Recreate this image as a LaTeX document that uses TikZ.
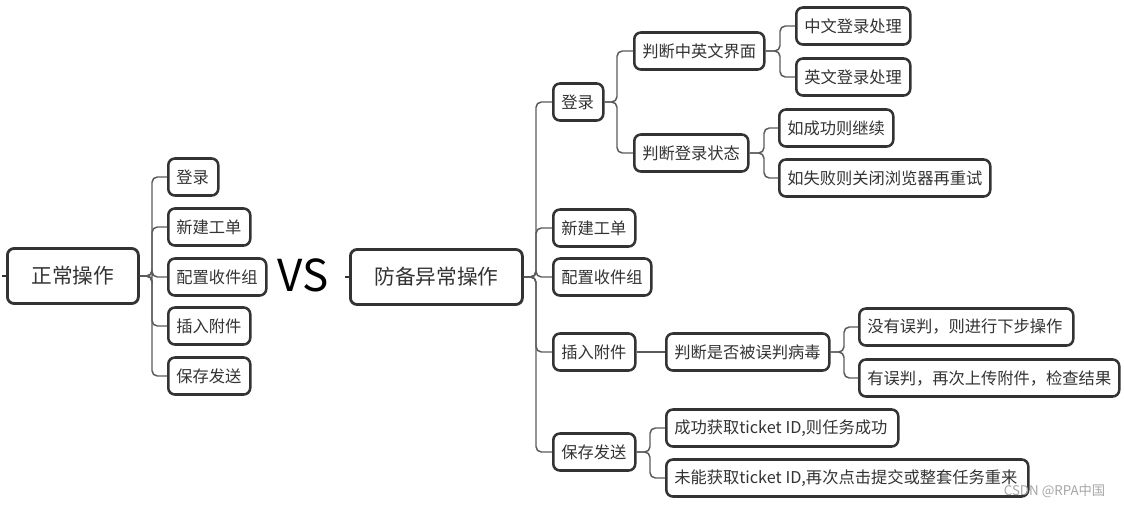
\documentclass[tikz,border=0pt]{standalone}
\usepackage{fontspec}
\setmainfont{Noto Sans CJK SC}
\definecolor{boxc}{HTML}{333333}
\definecolor{linec}{HTML}{5A5A5A}
\newcommand{\T}[2]{\makebox[\dimexpr 0.75pt*#1-12pt\relax][l]{#2}}
\begin{document}
\begin{tikzpicture}[x=0.75pt,y=-0.75pt,
  box/.style={draw=boxc, line width=1.9pt, rounded corners=5pt, fill=white,
    text=boxc, anchor=west, inner xsep=6pt, inner ysep=0pt,
    minimum height=37*0.75pt, font=\fontsize{12.2pt}{14pt}\selectfont},
  rootbox/.style={box, minimum height=55*0.75pt, line width=2.1pt, inner xsep=3pt,
    font=\fontsize{15.5pt}{18pt}\selectfont},
  w/.style={minimum width=#1*0.75pt},
  conn/.style={draw=linec, line width=1.1pt, rounded corners=4pt},
  stub/.style={draw=boxc, line width=1.6pt}
]
\useasboundingbox (0,0) rectangle (1124,507);

% left tree
\node[rootbox, w=131] (L) at (6,276) {正常操作};
\node[box] (L1) at (167,177) {\T{50}{登录}};
\node[box] (L2) at (167,227) {\T{82}{新建工单}};
\node[box] (L3) at (167,277) {\T{98}{配置收件组}};
\node[box] (L4) at (167,326) {\T{82}{插入附件}};
\node[box] (L5) at (167,376) {\T{82}{保存发送}};
\foreach \c in {L1,L2,L3,L4,L5}
  \draw[conn] (L.east) -| ([xshift=-15*0.75pt]\c.west) -- (\c.west);
\draw[stub] (L.west) -- ++(-4,0);

\node[font=\fontsize{33pt}{36pt}\selectfont, text=black] (vs) at (303,275) {VS};

% right tree
\node[rootbox, w=172] (R) at (349,277) {防备异常操作};
\draw[stub] (R.west) -- ++(-4,0);
\node[box] (R1) at (552,102) {\T{50}{登录}};
\node[box] (R2) at (552,228) {\T{82}{新建工单}};
\node[box] (R3) at (552,277) {\T{98}{配置收件组}};
\node[box] (R4) at (552,352) {\T{82}{插入附件}};
\node[box] (R5) at (552,452) {\T{82}{保存发送}};
\foreach \c in {R1,R2,R3,R4,R5}
  \draw[conn] (R.east) -| ([xshift=-16*0.75pt]\c.west) -- (\c.west);

\node[box] (A1) at (633,51) {\T{130}{判断中英文界面}};
\node[box] (A2) at (633,153) {\T{114}{判断登录状态}};
\foreach \c in {A1,A2}
  \draw[conn] (R1.east) -| ([xshift=-16*0.75pt]\c.west) -- (\c.west);

\node[box] (B1) at (795,26) {\T{114}{中文登录处理}};
\node[box] (B2) at (795,77) {\T{114}{英文登录处理}};
\foreach \c in {B1,B2}
  \draw[conn] (A1.east) -| ([xshift=-15*0.75pt]\c.west) -- (\c.west);

\node[box] (C1) at (778,128) {\T{114}{如成功则继续}};
\node[box] (C2) at (778,178) {\T{211}{如失败则关闭浏览器再重试}};
\foreach \c in {C1,C2}
  \draw[conn] (A2.east) -| ([xshift=-14*0.75pt]\c.west) -- (\c.west);

\node[box] (D) at (665,352) {\T{163}{判断是否被误判病毒}};
\draw[conn] (R4.east) -- (D.west);
\node[box] (D1) at (858,327) {\T{214}{没有误判，则进行下步操作}};
\node[box] (D2) at (858,378) {\T{260}{有误判，再次上传附件，检查结果}};
\foreach \c in {D1,D2}
  \draw[conn] (D.east) -| ([xshift=-14*0.75pt]\c.west) -- (\c.west);

\node[box] (E1) at (665,428) {\T{232}{成功获取ticket ID,则任务成功}};
\node[box] (E2) at (665,478) {\T{362}{未能获取ticket ID,再次点击提交或整套任务重来}};
\foreach \c in {E1,E2}
  \draw[conn] (R5.east) -| ([xshift=-15*0.75pt]\c.west) -- (\c.west);

\node[text=gray!70, font=\fontsize{10pt}{12pt}\selectfont, anchor=east] (wm) at (1110,491) {CSDN @RPA中国};
\end{tikzpicture}
\end{document}
